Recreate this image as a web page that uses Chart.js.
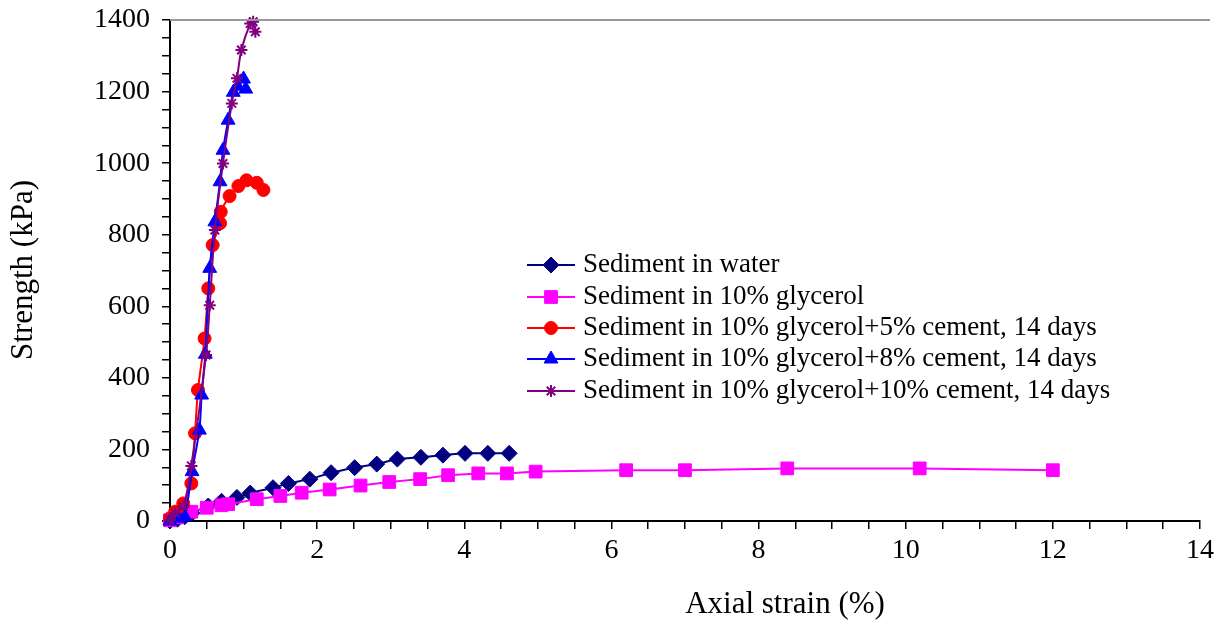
<!DOCTYPE html>
<html>
<head>
<meta charset="utf-8">
<script src="https://cdn.jsdelivr.net/npm/chart.js@4/dist/chart.umd.min.js"></script>
<style>
  body { margin: 0; background: #fff; }
  #wrap { width: 1220px; height: 624px; }
</style>
</head>
<body>
<div id="wrap"><canvas id="c" width="1220" height="624"></canvas></div>
<script>
// series: axial strain (%) vs strength (kPa)
const waterX = [0, 0.1, 0.2, 0.3, 0.52, 0.7, 0.91, 1.09, 1.4, 1.61, 1.9, 2.19, 2.51, 2.81, 3.09, 3.41, 3.71, 4.01, 4.32, 4.61]
const waterY = [0, 5, 12, 22, 42, 55, 66, 78, 93, 105, 117, 135, 149, 159, 173, 178, 184, 189, 189, 189]

const glycX = [0, 0.1, 0.29, 0.5, 0.7, 0.79, 1.18, 1.5, 1.79, 2.17, 2.59, 2.98, 3.4, 3.78, 4.19, 4.58, 4.97, 6.2, 7.0, 8.39, 10.19, 12.0]
const glycY = [2, 10, 26, 37, 44, 47, 61, 70, 79, 88, 99, 109, 117, 128, 133, 133, 138, 142, 142, 147, 147, 142]

const cem5X = [0, 0.07, 0.18, 0.29, 0.34, 0.38, 0.47, 0.52, 0.58, 0.68, 0.69, 0.81, 0.93, 1.04, 1.18, 1.27]
const cem5Y = [8, 26, 49, 105, 245, 366, 510, 650, 771, 832, 864, 908, 936, 952, 945, 925]

const cem8X = [0, 0.11, 0.2, 0.3, 0.4, 0.43, 0.48, 0.54, 0.61, 0.68, 0.72, 0.79, 0.86, 0.92, 1.0, 1.03]
const cem8Y = [0, 8, 12, 138, 254, 352, 466, 706, 836, 948, 1036, 1120, 1198, 1215, 1235, 1207]

const cem10X = [0, 0.07, 0.18, 0.29, 0.49, 0.54, 0.61, 0.72, 0.84, 0.91, 0.97, 1.09, 1.13, 1.16]
const cem10Y = [3, 22, 40, 154, 464, 603, 813, 999, 1167, 1237, 1316, 1390, 1395, 1367]

const labels = [
  "Sediment in water",
  "Sediment in 10% glycerol",
  "Sediment in 10% glycerol+5% cement, 14 days",
  "Sediment in 10% glycerol+8% cement, 14 days",
  "Sediment in 10% glycerol+10% cement, 14 days",
]

const FONT = "'Liberation Serif', 'Times New Roman', serif"

function pts(xs, ys) {
  return xs.map((x, i) => ({ x: x, y: ys[i] }))
}

function series(i, xs, ys, color, style, radius, tension) {
  return {
    label: labels[i],
    data: pts(xs, ys),
    showLine: true,
    borderColor: color,
    backgroundColor: color,
    pointBackgroundColor: color,
    pointBorderColor: color,
    pointStyle: style,
    pointRadius: radius,
    pointBorderWidth: style === "star" ? 2 : 1,
    borderWidth: 2,
    tension: tension,
    clip: 12,
    order: 5 - i,
  }
}

const datasets = [
  series(0, waterX, waterY, "#000080", "rectRot", 8, 0.2),
  series(1, glycX, glycY, "#ff00ff", "rect", 9, 0),
  series(2, cem5X, cem5Y, "#ff0000", "circle", 6.5, 0.2),
  series(3, cem8X, cem8Y, "#0000ff", "triangle", 8, 0.2),
  series(4, cem10X, cem10Y, "#800080", "star", 6, 0.3),
]

// titles, top frame line and the legend box inside the plot
const extras = {
  id: "extras",
  afterDraw(chart) {
    const ctx = chart.ctx
    const area = chart.chartArea
    ctx.save()
    ctx.strokeStyle = "#999"
    ctx.lineWidth = 2
    ctx.beginPath()
    ctx.moveTo(area.left, area.top)
    ctx.lineTo(area.right + 10, area.top)
    ctx.stroke()

    ctx.fillStyle = "#000"
    ctx.font = "31px " + FONT
    ctx.textAlign = "center"
    ctx.textBaseline = "middle"
    ctx.fillText("Axial strain (%)", 785, 605)
    ctx.translate(24, 270)
    ctx.rotate(-Math.PI / 2)
    ctx.fillText("Strength (kPa)", 0, 0)
    ctx.restore()

    ctx.save()
    const rows = [265, 297, 328, 359, 391]
    chart.data.datasets.forEach((ds, i) => {
      const y = rows[i]
      ctx.strokeStyle = ds.borderColor
      ctx.lineWidth = 2
      ctx.beginPath()
      ctx.moveTo(527, y)
      ctx.lineTo(575, y)
      ctx.stroke()
      ctx.fillStyle = ds.backgroundColor
      ctx.lineWidth = ds.pointBorderWidth
      Chart.helpers.drawPoint(ctx, {
        pointStyle: ds.pointStyle,
        radius: ds.pointRadius,
        borderWidth: ds.pointBorderWidth,
        rotation: 0,
      }, 551, y)
      ctx.fillStyle = "#000"
      ctx.font = "27px " + FONT
      ctx.textAlign = "left"
      ctx.textBaseline = "middle"
      ctx.fillText(ds.label, 583, y)
    })
    ctx.restore()
  },
}

new Chart(document.getElementById("c"), {
  type: "scatter",
  data: { datasets: datasets },
  plugins: [extras],
  options: {
    responsive: false,
    animation: false,
    layout: { padding: { top: 20, right: 20, left: 0, bottom: 0 } },
    plugins: {
      legend: { display: false },
      tooltip: { enabled: false },
    },
    scales: {
      x: {
        type: "linear",
        min: 0,
        max: 14,
        afterFit: (s) => {
          s.height = 103
          s.paddingLeft = 0
          s.paddingRight = 0
        },
        border: { color: "#000", width: 2 },
        grid: { drawOnChartArea: false, drawTicks: true, tickLength: 8, color: "#000", lineWidth: 1.5 },
        ticks: {
          stepSize: 0.5,
          autoSkip: false,
          maxRotation: 0,
          padding: 5,
          color: "#000",
          font: { family: FONT, size: 28 },
          callback: (v) => (v % 2 === 0 ? v : ""),
        },
      },
      y: {
        type: "linear",
        min: 0,
        max: 1400,
        afterFit: (s) => {
          s.width = 170
          s.paddingTop = 0
          s.paddingBottom = 0
        },
        border: { color: "#000", width: 2 },
        grid: { drawOnChartArea: false, drawTicks: true, tickLength: 8, color: "#000", lineWidth: 1.5 },
        ticks: {
          stepSize: 50,
          autoSkip: false,
          padding: 12,
          color: "#000",
          font: { family: FONT, size: 28 },
          callback: (v) => (v % 200 === 0 ? v : ""),
        },
      },
    },
  },
})
</script>
</body>
</html>
